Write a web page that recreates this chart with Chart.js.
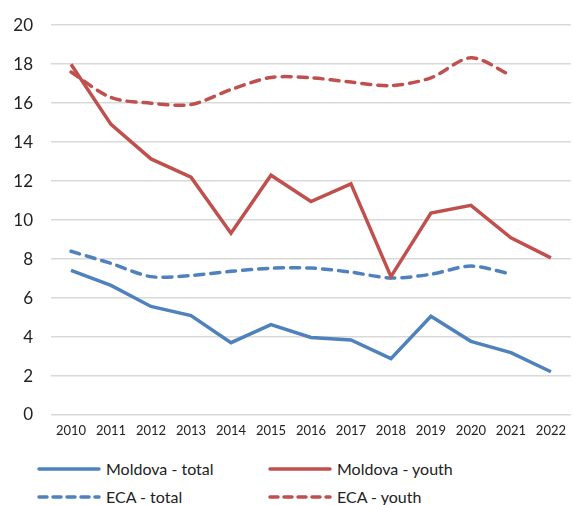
<!DOCTYPE html>
<html>
<head>
<meta charset="utf-8">
<script src="https://cdn.jsdelivr.net/npm/chart.js@4/dist/chart.umd.min.js"></script>
<style>
  body { margin: 0; background: #fff; font-family: Lato, sans-serif; }
  #wrap { position: relative; width: 574px; height: 505px; overflow: hidden; }
  #box { position: absolute; left: 0; top: -3px; width: 574px; height: 448px; }
  .item { position: absolute; font-size: 16px; color: #222; line-height: 20px; }
  .item svg { position: absolute; left: 0; top: 4px; }
  .item span.txt { position: absolute; left: 69px; top: 0; white-space: nowrap; }
</style>
</head>
<body>
<div id="wrap">
  <div id="box"><canvas id="chart"></canvas></div>
  <div id="legend"></div>
</div>
<script>
const years = ['2010','2011','2012','2013','2014','2015','2016','2017','2018','2019','2020','2021','2022']
const moldovaTotal = [7.42, 6.65, 5.57, 5.1, 3.71, 4.64, 3.98, 3.85, 2.89, 5.07, 3.78, 3.2, 2.22]
const moldovaYouth = [18.0, 14.91, 13.14, 12.2, 9.33, 12.3, 10.95, 11.86, 7.1, 10.36, 10.76, 9.09, 8.06]
const ecaTotal = [8.4, 7.78, 7.1, 7.16, 7.37, 7.53, 7.54, 7.33, 7.03, 7.22, 7.64, 7.23, null]
const ecaYouth = [17.6, 16.29, 16.0, 15.93, 16.7, 17.32, 17.3, 17.08, 16.9, 17.3, 18.33, 17.42, null]
const yTicks = [0, 2, 4, 6, 8, 10, 12, 14, 16, 18, 20]

const blue = '#4F81BD'
const red = '#C0504D'

function series(label, data, color, dashed) {
  return {
    label,
    data,
    borderColor: color,
    backgroundColor: color,
    borderWidth: 3.5,
    borderDash: dashed ? [9, 7] : [],
    borderCapStyle: dashed ? 'round' : 'butt',
    borderJoinStyle: 'miter',
    pointRadius: 0,
    tension: dashed ? 0.3 : 0,
    spanGaps: false,
  }
}

new Chart(document.getElementById('chart'), {
  type: 'line',
  data: {
    labels: years,
    datasets: [
      series('Moldova - total', moldovaTotal, blue, false),
      series('Moldova - youth', moldovaYouth, red, false),
      series('ECA - total', ecaTotal, blue, true),
      series('ECA - youth', ecaYouth, red, true),
    ],
  },
  options: {
    responsive: true,
    maintainAspectRatio: false,
    animation: false,
    layout: { padding: { top: 19, right: 0, left: 0, bottom: 0 } },
    plugins: {
      legend: { display: false },
      tooltip: { enabled: false },
    },
    scales: {
      x: {
        offset: true,
        grid: { display: false, drawTicks: false },
        border: { display: false },
        ticks: {
          color: '#222',
          font: { family: 'Lato', size: 13 },
          padding: 8,
          maxRotation: 0,
          autoSkip: false,
        },
        afterFit: (s) => { s.height = 30 },
      },
      y: {
        min: 0,
        max: 20,
        afterBuildTicks: (s) => { s.ticks = yTicks.map((v) => ({ value: v })) },
        grid: { color: '#D9D9D9', lineWidth: 1.5, drawTicks: false },
        border: { display: false },
        ticks: {
          color: '#222',
          font: { family: 'Lato', size: 17 },
          padding: 18,
        },
        afterFit: (s) => { s.width = 51 },
      },
    },
  },
})

// legend in two columns, sample lines drawn as small svgs
const legendItems = [
  { text: 'Moldova - total', color: blue, dashed: false, x: 37, y: 459 },
  { text: 'Moldova - youth', color: red, dashed: false, x: 268, y: 459 },
  { text: 'ECA - total', color: blue, dashed: true, x: 37, y: 487 },
  { text: 'ECA - youth', color: red, dashed: true, x: 268, y: 487 },
]
const legend = document.getElementById('legend')
legendItems.forEach((it) => {
  const d = document.createElement('div')
  d.className = 'item'
  d.style.left = it.x + 'px'
  d.style.top = it.y + 'px'
  const dash = it.dashed ? 'stroke-dasharray="8 6"' : ''
  d.innerHTML = '<svg width="66" height="12"><line x1="2" y1="6" x2="62" y2="6" stroke="' + it.color +
    '" stroke-width="3.5" stroke-linecap="round" ' + dash + '/></svg><span class="txt">' + it.text + '</span>'
  legend.appendChild(d)
})
</script>
</body>
</html>
